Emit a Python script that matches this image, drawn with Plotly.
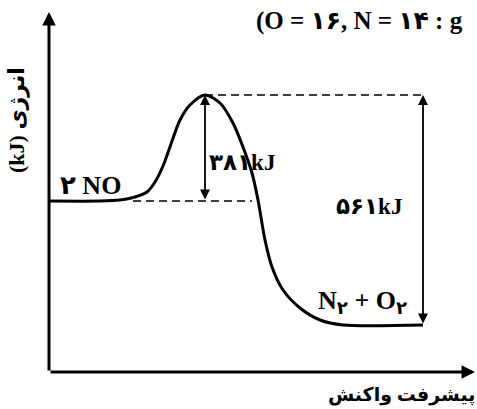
import plotly.graph_objects as go

# energy profile (arbitrary drawing units)
progress = [0, 51, 71, 86, 98, 106, 114, 122, 131, 141, 156, 171, 184, 194, 203, 209, 216, 223, 234, 251, 271, 294, 374]
energy = [171, 171, 172, 175, 180, 190, 206, 228, 252, 267, 277, 269, 249, 225, 199, 172, 132, 105, 82, 64, 52, 47, 47]

reactant_level = 171
peak_level = 277
product_level = 47
peak_x = 156
end_x = 374

labels = ["۲ NO", "۳۸۱kJ", "۵۶۱kJ", "N<sub>۲</sub> + O<sub>۲</sub>"]
title_text = "(O = ۱۶, N = ۱۴ : g"
x_title = "پیشرفت واکنش"
y_title = "(kJ) انرژی"

FONT = "Liberation Serif, Times New Roman, DejaVu Serif, DejaVu Sans"

fig = go.Figure()

# reaction curve
fig.add_trace(go.Scatter(x=progress, y=energy, mode="lines",
                         line=dict(color="black", width=3, shape="spline", smoothing=0.8),
                         hoverinfo="skip"))

# dashed guide lines
fig.add_trace(go.Scatter(x=[peak_x, end_x], y=[peak_level, peak_level], mode="lines",
                         line=dict(color="black", width=1.5, dash="8px,5px"), hoverinfo="skip"))
fig.add_trace(go.Scatter(x=[84, 203], y=[reactant_level, reactant_level], mode="lines",
                         line=dict(color="black", width=1.5, dash="8px,5px"), hoverinfo="skip"))

def arrow(x0, y0, x1, y1, width, both=False, size=1.0):
    fig.add_annotation(x=x1, y=y1, ax=x0, ay=y0, xref="x", yref="y", axref="x", ayref="y",
                       showarrow=True, arrowhead=2, startarrowhead=2, arrowsize=size,
                       startarrowsize=size, arrowwidth=width, arrowcolor="black",
                       arrowside="end+start" if both else "end", text="")

# axes with arrow tips
arrow(0, 0, 426, 0, 3, size=0.9)
arrow(0, 0, 0, 360, 3, size=0.9)

# energy arrows
arrow(peak_x, reactant_level, peak_x, peak_level, 1.8, both=True, size=1.1)
arrow(end_x, product_level, end_x, peak_level, 1.8, both=True, size=1.1)

def font(size):
    return dict(family=FONT, size=size, color="black", weight="bold")

fig.add_annotation(x=41, y=187, text=labels[0], showarrow=False, font=font(26))
fig.add_annotation(x=158, y=210, text=labels[1], showarrow=False, xanchor="left", font=font(23))
fig.add_annotation(x=320, y=166, text=labels[2], showarrow=False, font=font(23))
fig.add_annotation(x=313, y=70, text=labels[3], showarrow=False, font=font(26))
fig.add_annotation(x=205, y=351, text=title_text, showarrow=False, xanchor="left", font=font(25))
fig.add_annotation(x=428, y=-23, text=x_title, showarrow=False, xanchor="right", font=font(19))
fig.add_annotation(x=-32, y=252, text=y_title, showarrow=False, textangle=-90, font=font(22))

fig.update_xaxes(range=[-49, 428], visible=False, fixedrange=True)
fig.update_yaxes(range=[-37, 372], visible=False, fixedrange=True)
fig.update_layout(width=477, height=409, margin=dict(l=0, r=0, t=0, b=0),
                  plot_bgcolor="white", paper_bgcolor="white", showlegend=False)

fig.write_html("out.html", config={"displayModeBar": False},
               post_script="document.body.style.margin='0';")
